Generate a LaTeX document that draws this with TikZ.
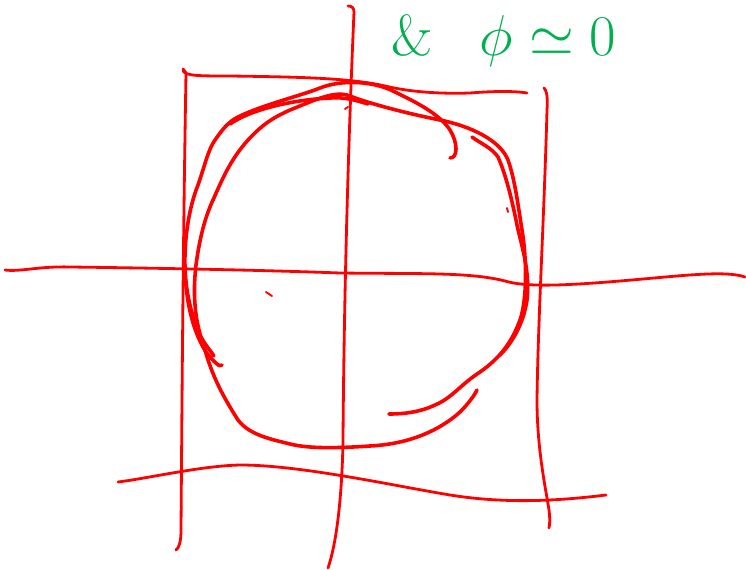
\documentclass[tikz,border=0pt]{standalone}
\usepackage{tikz}
\usepackage{mathtools}

\begin{document}
\begin{tikzpicture}[x=0.75pt,y=0.75pt,yscale=-1,xscale=1]
\useasboundingbox (0,0) rectangle (746,570);

%Straight Lines [id:frame-left] 
\draw [color={rgb, 255:red, 255; green, 0; blue, 0 }  ,line width=2.1pt ,line cap=round ,line join=round]  (183,69) -- (186,73) .. controls (183,250) and (182,400) .. (181,530) .. controls (181,542) and (179,548) .. (176,550) ;
%Straight Lines [id:frame-mid] 
\draw [color={rgb, 255:red, 255; green, 0; blue, 0 }  ,line width=2.1pt ,line cap=round ,line join=round]  (348,6) .. controls (352,6) and (354,8) .. (354,12) .. controls (348,150) and (344,300) .. (343,440) .. controls (342,500) and (336,545) .. (328,568) ;
%Straight Lines [id:frame-right] 
\draw [color={rgb, 255:red, 255; green, 0; blue, 0 }  ,line width=2.1pt ,line cap=round ,line join=round]  (544,88) .. controls (546,90) and (548,94) .. (547,110) .. controls (544,220) and (538,320) .. (537,400) .. controls (537,450) and (546,490) .. (549,510) .. controls (550,518) and (550,523) .. (549,528) ;
%Curve Lines [id:frame-top] 
\draw [color={rgb, 255:red, 255; green, 0; blue, 0 }  ,line width=2.1pt ,line cap=round ,line join=round]  (183,71) .. controls (186,76) and (200,76) .. (230,76) .. controls (300,77) and (350,78) .. (385,86) .. controls (410,92) and (440,94) .. (470,93) .. controls (495,91) and (515,91) .. (527,93) ;
%Curve Lines [id:axis-h] 
\draw [color={rgb, 255:red, 255; green, 0; blue, 0 }  ,line width=2.1pt ,line cap=round ,line join=round]  (5,270) .. controls (20,272) and (40,266) .. (70,267) .. controls (150,268) and (260,270) .. (340,273) .. controls (420,274) and (470,272) .. (505,281) .. controls (525,287) and (560,286) .. (620,281) .. controls (680,276) and (725,270) .. (745,277) ;
%Curve Lines [id:axis-bottom] 
\draw [color={rgb, 255:red, 255; green, 0; blue, 0 }  ,line width=2.1pt ,line cap=round ,line join=round]  (118,482) .. controls (150,478) and (200,466) .. (240,465) .. controls (300,465) and (390,485) .. (450,495) .. controls (500,503) and (550,502) .. (606,495) ;

%Curve Lines [id:circle-outer-left] 
\draw [color={rgb, 255:red, 255; green, 0; blue, 0 }  ,line width=2.7pt ,line cap=round ,line join=round]  (222,365) .. controls (220,368) and (214,362) .. (206,352) .. controls (192,330) and (186,300) .. (185,270) .. controls (184,235) and (190,205) .. (198,185) .. controls (205,165) and (208,150) .. (215,140) .. controls (222,130) and (228,122) .. (238,117) .. controls (262,105) and (300,96) .. (320,88) .. controls (340,80) and (372,80) .. (395,92) .. controls (420,104) and (440,115) .. (450,130) .. controls (458,143) and (458,158) .. (450,158) ;
%Curve Lines [id:circle-inner-left] 
\draw [color={rgb, 255:red, 255; green, 0; blue, 0 }  ,line width=2.7pt ,line cap=round ,line join=round]  (213,200) .. controls (206,215) and (200,235) .. (196,265) .. controls (192,300) and (196,325) .. (205,350) .. controls (212,375) and (222,395) .. (238,420) .. controls (250,436) and (275,440) .. (290,444) .. controls (310,449) and (340,448) .. (370,446) .. controls (410,444) and (440,430) .. (460,412) .. controls (468,404) and (474,396) .. (477,390) ;
%Curve Lines [id:circle-top] 
\draw [color={rgb, 255:red, 255; green, 0; blue, 0 }  ,line width=2.7pt ,line cap=round ,line join=round]  (213,200) .. controls (222,180) and (230,160) .. (248,140) .. controls (262,125) and (272,118) .. (290,110) .. controls (315,100) and (335,90) .. (350,96) .. controls (365,102) and (400,112) .. (440,120) .. controls (470,126) and (500,140) .. (508,160) .. controls (515,180) and (518,205) .. (522,230) .. controls (527,260) and (527,300) .. (520,320) .. controls (512,342) and (500,358) .. (480,372) .. controls (460,385) and (452,398) .. (435,405) .. controls (420,412) and (405,414) .. (389,414) ;
%Curve Lines [id:circle-stroke-2] 
\draw [color={rgb, 255:red, 255; green, 0; blue, 0 }  ,line width=2.7pt ,line cap=round ,line join=round]  (230,124) .. controls (250,110) and (290,100) .. (330,98) .. controls (345,97) and (355,100) .. (368,104) ;
%Curve Lines [id:circle-right] 
\draw [color={rgb, 255:red, 255; green, 0; blue, 0 }  ,line width=2.7pt ,line cap=round ,line join=round]  (472,137) .. controls (480,143) and (492,148) .. (498,157) .. controls (506,175) and (512,200) .. (517,225) .. controls (522,248) and (530,270) .. (527,300) .. controls (524,320) and (515,340) .. (500,355) ;
%Curve Lines [id:circle-bottom-left] 
\draw [color={rgb, 255:red, 255; green, 0; blue, 0 }  ,line width=2.7pt ,line cap=round ,line join=round]  (185,265) .. controls (185,290) and (192,318) .. (200,335) .. controls (205,345) and (210,350) .. (214,356) ;
%Straight Lines [id:tick-1] 
\draw [color={rgb, 255:red, 255; green, 0; blue, 0 }  ,line width=1.4pt ,line cap=round]  (266,292) -- (272,296) ;
%Straight Lines [id:tick-2] 
\draw [color={rgb, 255:red, 255; green, 0; blue, 0 }  ,line width=1.4pt ,line cap=round]  (345,109) -- (348,107) ;
%Straight Lines [id:tick-3] 
\draw [color={rgb, 255:red, 255; green, 0; blue, 0 }  ,line width=1.4pt ,line cap=round]  (507,208) -- (508,212) ;

% Text Node
\draw (504,41) node  [color={rgb, 255:red, 0; green, 176; blue, 80 }  ,scale=2.5 ,inner sep=0pt] (cond) {\LARGE $\mathit{\&}\hspace{14pt}\phi \simeq 0$};

\end{tikzpicture}
\end{document}
